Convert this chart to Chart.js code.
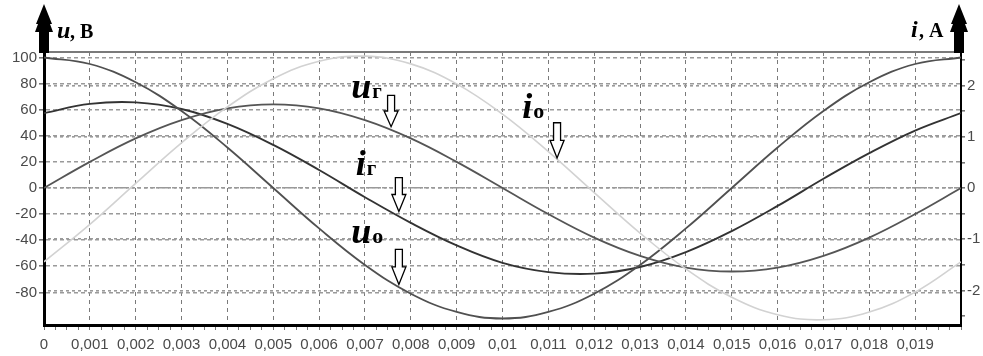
<!DOCTYPE html>
<html>
<head>
<meta charset="utf-8">
<script src="https://cdn.jsdelivr.net/npm/chart.js@4.4.0/dist/chart.umd.min.js"></script>
<style>
    html, body { margin: 0; padding: 0; background: #fff; }
    #grafico { display: block; }
</style>
</head>
<body>
<canvas id="grafico" width="983" height="356"></canvas>
<script>
window.onload = function () {
    init();
};

// tempo, s
var tempos = [0, 0.001, 0.002, 0.003, 0.004, 0.005, 0.006, 0.007, 0.008, 0.009, 0.01,
    0.011, 0.012, 0.013, 0.014, 0.015, 0.016, 0.017, 0.018, 0.019, 0.02];
// tensoes, V (eixo esquerdo)
var uO = [100, 95, 81, 59, 31, 0, -31, -59, -81, -95, -100, -95, -81, -59, -31, 0, 31, 59, 81, 95, 100];
var uG = [0, 20, 38, 52, 61, 64, 61, 52, 38, 20, 0, -20, -38, -52, -61, -64, -61, -52, -38, -20, 0];
// correntes, A (eixo direito)
var iG = [1.46, 1.64, 1.67, 1.54, 1.25, 0.84, 0.35, -0.18, -0.68, -1.12, -1.46,
    -1.64, -1.67, -1.54, -1.25, -0.84, -0.35, 0.18, 0.68, 1.12, 1.46];
var iO = [-1.44, -0.71, 0.09, 0.88, 1.58, 2.13, 2.47, 2.57, 2.42, 2.03, 1.44,
    0.71, -0.09, -0.88, -1.58, -2.13, -2.47, -2.57, -2.42, -2.03, -1.44];

var rotulosTempo = ['0', '0,001', '0,002', '0,003', '0,004', '0,005', '0,006', '0,007', '0,008', '0,009',
    '0,01', '0,011', '0,012', '0,013', '0,014', '0,015', '0,016', '0,017', '0,018', '0,019'];
var rotulosU = [-80, -60, -40, -20, 0, 20, 40, 60, 80, 100];
var rotulosI = [-2, -1, 0, 1, 2];

var fonteEixo = '"Liberation Sans", Arial, sans-serif';
var fonteSerif = '"Liberation Serif", "Times New Roman", serif';

function pontos(valores) {
    return tempos.map(function (t, k) {
        return {x: t, y: valores[k]};
    });
}

function ehMaior(v, passo) {
    var q = v / passo;
    return Math.abs(q - Math.round(q)) < 1e-6;
}

// seta preta grossa no topo dos eixos
function setaEixo(ctx, x, yBase) {
    ctx.save();
    ctx.fillStyle = '#000';
    ctx.beginPath();
    ctx.moveTo(x - 5, yBase);
    ctx.lineTo(x - 5, 32);
    ctx.lineTo(x - 9, 32);
    ctx.lineTo(x - 6, 24);
    ctx.lineTo(x - 8, 24);
    ctx.lineTo(x, 4);
    ctx.lineTo(x + 8, 24);
    ctx.lineTo(x + 6, 24);
    ctx.lineTo(x + 9, 32);
    ctx.lineTo(x + 5, 32);
    ctx.lineTo(x + 5, yBase);
    ctx.closePath();
    ctx.fill();
    ctx.restore();
}

// seta vazada apontando para a curva
function setaVazada(ctx, x, yTopo, yPonta) {
    var meio = yTopo + (yPonta - yTopo) * 0.5;
    ctx.save();
    ctx.fillStyle = '#fff';
    ctx.strokeStyle = '#000';
    ctx.lineWidth = 1.3;
    ctx.beginPath();
    ctx.moveTo(x - 3.5, yTopo);
    ctx.lineTo(x + 3.5, yTopo);
    ctx.lineTo(x + 3.5, meio);
    ctx.lineTo(x + 7, meio);
    ctx.lineTo(x, yPonta);
    ctx.lineTo(x - 7, meio);
    ctx.lineTo(x - 3.5, meio);
    ctx.closePath();
    ctx.fill();
    ctx.stroke();
    ctx.restore();
}

function rotulo(ctx, x, y, letra, indice, tam, tamIndice) {
    ctx.save();
    ctx.fillStyle = '#000';
    ctx.textBaseline = 'alphabetic';
    ctx.font = 'italic bold ' + tam + 'px ' + fonteSerif;
    ctx.fillText(letra, x, y);
    var w = ctx.measureText(letra).width;
    ctx.font = 'bold ' + tamIndice + 'px ' + fonteSerif;
    ctx.fillText(indice, x + w + 1, y);
    ctx.restore();
}

var pluginAnotacoes = {
    id: 'anotacoes',
    afterDraw: function (chart) {
        var ctx = chart.ctx;
        var a = chart.chartArea;
        var sx = chart.scales.x;
        var sy = chart.scales.y;

        // borda de cima
        ctx.save();
        ctx.strokeStyle = '#7a7a7a';
        ctx.lineWidth = 2;
        ctx.beginPath();
        ctx.moveTo(a.left, a.top);
        ctx.lineTo(a.right, a.top);
        ctx.stroke();
        ctx.restore();

        setaEixo(ctx, a.left, a.top + 1);
        setaEixo(ctx, a.right - 2, a.top + 1);

        // titulos dos eixos
        ctx.save();
        ctx.fillStyle = '#000';
        ctx.font = 'italic bold 24px ' + fonteSerif;
        ctx.fillText('u', a.left + 13, 38);
        ctx.font = 'bold 20px ' + fonteSerif;
        ctx.fillText(', В', a.left + 26, 38);
        ctx.font = 'italic bold 24px ' + fonteSerif;
        ctx.fillText('i', a.right - 50, 37);
        ctx.font = 'bold 20px ' + fonteSerif;
        ctx.fillText(', А', a.right - 42, 37);
        ctx.restore();

        // nomes das curvas
        rotulo(ctx, sx.getPixelForValue(0.0067), sy.getPixelForValue(69), 'u', 'г', 36, 21);
        setaVazada(ctx, sx.getPixelForValue(0.00757), sy.getPixelForValue(71), sy.getPixelForValue(47));

        rotulo(ctx, sx.getPixelForValue(0.01043), sy.getPixelForValue(54), 'i', 'о', 36, 22);
        setaVazada(ctx, sx.getPixelForValue(0.01119), sy.getPixelForValue(50), sy.getPixelForValue(23));

        rotulo(ctx, sx.getPixelForValue(0.0068), sy.getPixelForValue(10), 'i', 'г', 36, 21);
        setaVazada(ctx, sx.getPixelForValue(0.00774), sy.getPixelForValue(8), sy.getPixelForValue(-18));

        rotulo(ctx, sx.getPixelForValue(0.0067), sy.getPixelForValue(-42), 'u', 'о', 36, 22);
        setaVazada(ctx, sx.getPixelForValue(0.00774), sy.getPixelForValue(-47), sy.getPixelForValue(-74));
    }
};

function serie(valores, cor, larg, eixo) {
    return {
        data: pontos(valores),
        borderColor: cor,
        borderWidth: larg,
        pointRadius: 0,
        tension: 0.4,
        fill: false,
        yAxisID: eixo
    };
}

function carregarGrafico() {
    var ctx = document.getElementById('grafico');
    new Chart(ctx, {
        type: 'line',
        data: {
            datasets: [
                serie(iO, '#d2d2d2', 1.6, 'y1'),
                serie(uG, '#555', 1.8, 'y'),
                serie(uO, '#505050', 1.8, 'y'),
                serie(iG, '#333', 1.9, 'y1')
            ]
        },
        options: {
            responsive: false,
            animation: false,
            events: [],
            layout: {padding: {top: 52, left: 0, right: 0, bottom: 0}},
            plugins: {legend: {display: false}, tooltip: {enabled: false}},
            scales: {
                x: {
                    type: 'linear',
                    min: 0,
                    max: 0.02,
                    afterFit: function (s) { s.height = 31; },
                    border: {display: true, color: '#000', width: 3, dash: [4, 4]},
                    grid: {
                        color: function (c) {
                            var v = c.tick.value;
                            if (!ehMaior(v, 0.001) || v <= 0 || v >= 0.02) return 'transparent';
                            return '#7a7a7a';
                        },
                        lineWidth: 1,
                        tickColor: '#777',
                        tickLength: 5,
                        tickBorderDash: []
                    },
                    ticks: {
                        stepSize: 0.00025,
                        autoSkip: false,
                        maxRotation: 0,
                        minRotation: 0,
                        padding: 6,
                        color: '#4a4a4a',
                        font: {family: fonteEixo, size: 15},
                        callback: function (v) {
                            if (!ehMaior(v, 0.001)) return '';
                            var k = Math.round(v / 0.001);
                            return k < rotulosTempo.length ? rotulosTempo[k] : '';
                        }
                    }
                },
                y: {
                    position: 'left',
                    min: -105,
                    max: 104.2,
                    afterFit: function (s) { s.width = 44; },
                    border: {display: true, color: '#000', width: 3, dash: [4, 3]},
                    grid: {
                        color: function (c) {
                            return rotulosU.indexOf(c.tick.value) >= 0 ? '#9a9a9a' : 'transparent';
                        },
                        lineWidth: 1.6,
                        tickColor: function (c) {
                            return rotulosU.indexOf(c.tick.value) >= 0 ? '#777' : 'transparent';
                        },
                        tickLength: 5
                    },
                    ticks: {
                        stepSize: 20,
                        includeBounds: false,
                        padding: 2,
                        color: '#4a4a4a',
                        font: {family: fonteEixo, size: 15},
                        callback: function (v) {
                            return rotulosU.indexOf(v) >= 0 ? String(v) : '';
                        }
                    }
                },
                y1: {
                    position: 'right',
                    min: -105 / 39.3,
                    max: 104.2 / 39.3,
                    afterFit: function (s) { s.width = 22; },
                    border: {display: true, color: '#000', width: 2, dash: [3, 3], dashOffset: 2},
                    grid: {
                        color: function (c) {
                            return rotulosI.indexOf(c.tick.value) >= 0 ? '#9a9a9a' : 'transparent';
                        },
                        lineWidth: 1.6,
                        tickColor: '#777',
                        tickLength: 4
                    },
                    ticks: {
                        stepSize: 0.25,
                        includeBounds: false,
                        padding: 2,
                        color: '#4a4a4a',
                        font: {family: fonteEixo, size: 15},
                        callback: function (v) {
                            return rotulosI.indexOf(v) >= 0 ? String(v) : '';
                        }
                    }
                }
            }
        },
        plugins: [pluginAnotacoes]
    });
}

function init() {
    carregarGrafico();
}
</script>
</body>
</html>
